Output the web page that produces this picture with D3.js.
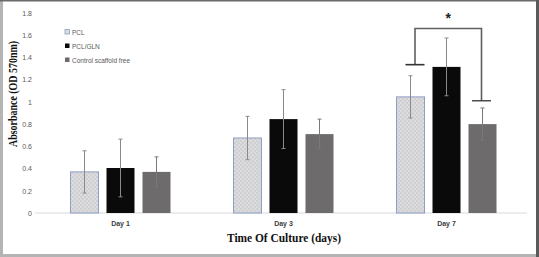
<!DOCTYPE html>
<html><head><meta charset="utf-8">
<script src="https://cdn.jsdelivr.net/npm/d3@7"></script>
<style>body{margin:0;background:#fff}svg{display:block}</style>
</head><body>
<script>
const categories = ["Day 1", "Day 3", "Day 7"];
const series = ["PCL", "PCL/GLN", "Control scaffold free"];
const pcl    = [0.37, 0.675, 1.045];
const pclGln = [0.405, 0.845, 1.315];
const ctrl   = [0.37, 0.71, 0.80];
const pclErr    = [0.19, 0.195, 0.19];
const pclGlnErr = [0.26, 0.265, 0.26];
const ctrlErr   = [0.135, 0.135, 0.145];
const yTicks = [0, 0.2, 0.4, 0.6, 0.8, 1, 1.2, 1.4, 1.6, 1.8];
const bracketLevels = {top: 1.66, left: 1.335, right: 1.01};

const W = 539, H = 257;
const svg = d3.select("body").append("svg").attr("width", W).attr("height", H);

// frame
svg.append("rect").attr("x",0).attr("y",0).attr("width",W).attr("height",H).attr("fill","#fff");
svg.append("rect").attr("x",0).attr("y",0).attr("width",3).attr("height",H).attr("fill","#b4b4b4");
svg.append("rect").attr("x",0).attr("y",254).attr("width",W).attr("height",3).attr("fill","#b4b4b4");
svg.append("rect").attr("x",0).attr("y",0).attr("width",W).attr("height",1.5).attr("fill","#6a6a6a");
svg.append("rect").attr("x",536).attr("y",0).attr("width",3).attr("height",H).attr("fill","#5a5a5a");

// pattern for PCL
const defs = svg.append("defs");
const pat = defs.append("pattern").attr("id","chk").attr("width",4).attr("height",4).attr("patternUnits","userSpaceOnUse");
pat.append("rect").attr("width",4).attr("height",4).attr("fill","#dcdcde");
pat.append("rect").attr("width",2).attr("height",2).attr("fill","#cfcfd2");
pat.append("rect").attr("x",2).attr("y",2).attr("width",2).attr("height",2).attr("fill","#cfcfd2");

const y = d3.scaleLinear().domain([0, 1.8]).range([213, 13]);
const x0 = d3.scaleBand().domain(categories).range([39, 528]).padding(0);
const x1 = d3.scaleBand().domain(series).range([-54, 54]).paddingInner(8/36).paddingOuter(4/36);

// y axis labels
const yAxis = d3.axisLeft(y).tickValues(yTicks).tickSize(0).tickPadding(0).tickFormat(d3.format("~g"));
const ya = svg.append("g").attr("transform","translate(32,0)").call(yAxis);
ya.select(".domain").remove();
ya.selectAll("text").attr("font-family","'Liberation Sans', Arial, sans-serif").attr("font-size",7).attr("fill","#595959");

// baseline
svg.append("line").attr("x1",35).attr("x2",527).attr("y1",y(0)).attr("y2",y(0)).attr("stroke","#d9d9d9").attr("stroke-width",1);

// x axis labels
const xAxis = d3.axisBottom(x0).tickSize(0).tickPadding(0);
const xa = svg.append("g").attr("transform",`translate(0,${y(0)+8})`).call(xAxis);
xa.select(".domain").remove();
xa.selectAll("text").attr("font-family","'Liberation Sans', Arial, sans-serif").attr("font-size",7).attr("font-weight","bold").attr("fill","#404040");

const vals = [pcl, pclGln, ctrl];
const errs = [pclErr, pclGlnErr, ctrlErr];
const fills = ["url(#chk)", "#0a0a0a", "#6d6b6b"];
const strokes = ["#8e9ec6", "none", "none"];
const errColors = ["#8a8a8a", "#8a8a8a", "#7a7878"];
const data = [];
categories.forEach((c, i) => series.forEach((s, j) => data.push({c, s, j, v: vals[j][i], e: errs[j][i]})));

const g = svg.append("g");
g.selectAll("rect.bar").data(data).join("rect").attr("class","bar")
  .attr("x", d => x0(d.c) + x0.bandwidth()/2 + x1(d.s))
  .attr("y", d => y(d.v))
  .attr("width", x1.bandwidth())
  .attr("height", d => y(0) - y(d.v))
  .attr("fill", d => fills[d.j])
  .attr("stroke", d => strokes[d.j])
  .attr("stroke-width", 1);

const cx = d => x0(d.c) + x0.bandwidth()/2 + x1(d.s) + x1.bandwidth()/2;
const eg = g.selectAll("g.err").data(data).join("g").attr("class","err").attr("stroke", d => errColors[d.j]).attr("stroke-width",1);
eg.append("line").attr("x1",cx).attr("x2",cx).attr("y1",d=>y(d.v+d.e)).attr("y2",d=>y(d.v-d.e));
eg.append("line").attr("x1",d=>cx(d)-2).attr("x2",d=>cx(d)+2).attr("y1",d=>y(d.v+d.e)).attr("y2",d=>y(d.v+d.e));
eg.append("line").attr("x1",d=>cx(d)-2).attr("x2",d=>cx(d)+2).attr("y1",d=>y(d.v-d.e)).attr("y2",d=>y(d.v-d.e));

// significance bracket on Day 7
const d7 = "Day 7";
const bl = x0(d7) + x0.bandwidth()/2 + x1(series[0]) + x1.bandwidth()/2 + 4.5;
const br = x0(d7) + x0.bandwidth()/2 + x1(series[2]) + x1.bandwidth()/2 - 1;
const bc = "#5f5f5f";
svg.append("path").attr("d",
  `M${bl},${y(bracketLevels.left)}V${y(bracketLevels.top)}H${br}V${y(bracketLevels.right)}`)
  .attr("fill","none").attr("stroke",bc).attr("stroke-width",1.6);
svg.append("line").attr("x1",bl-9.5).attr("x2",bl+9.5).attr("y1",y(bracketLevels.left)).attr("y2",y(bracketLevels.left)).attr("stroke","#333").attr("stroke-width",1.6);
svg.append("line").attr("x1",br-9.5).attr("x2",br+9.5).attr("y1",y(bracketLevels.right)).attr("y2",y(bracketLevels.right)).attr("stroke","#333").attr("stroke-width",1.3);
svg.append("text").attr("x",(bl+br)/2).attr("y",23).attr("text-anchor","middle")
  .attr("font-family","'Liberation Sans', Arial, sans-serif").attr("font-size",14).attr("font-weight","bold").attr("fill","#222").text("*");

// legend
const lg = svg.append("g").attr("transform","translate(65,32)");
series.forEach((s, j) => {
  const row = lg.append("g").attr("transform",`translate(0,${j*14})`);
  row.append("rect").attr("x",0).attr("y",-2.5).attr("width",4.5).attr("height",4.5)
    .attr("fill", j===0 ? "#dcdcde" : fills[j]).attr("stroke", j===0 ? "#8e9ec6" : "none").attr("stroke-width",0.8);
  row.append("text").attr("x",7).attr("y",2.5).attr("font-family","'Liberation Sans', Arial, sans-serif")
    .attr("font-size",6.5).attr("fill","#595959").text(s);
});

// axis titles
svg.append("text").attr("transform","translate(17,94) rotate(-90)").attr("text-anchor","middle")
  .attr("font-family","'Liberation Serif', 'Times New Roman', serif").attr("font-size",13).attr("font-weight","bold").attr("fill","#111")
  .attr("textLength",106).attr("lengthAdjust","spacingAndGlyphs")
  .text("Absorbance (OD 570nm)");
svg.append("text").attr("x",284).attr("y",242).attr("text-anchor","middle")
  .attr("font-family","'Liberation Serif', 'Times New Roman', serif").attr("font-size",12.5).attr("font-weight","bold").attr("fill","#111")
  .attr("textLength",114).attr("lengthAdjust","spacingAndGlyphs")
  .text("Time Of Culture (days)");
</script>
</body></html>
